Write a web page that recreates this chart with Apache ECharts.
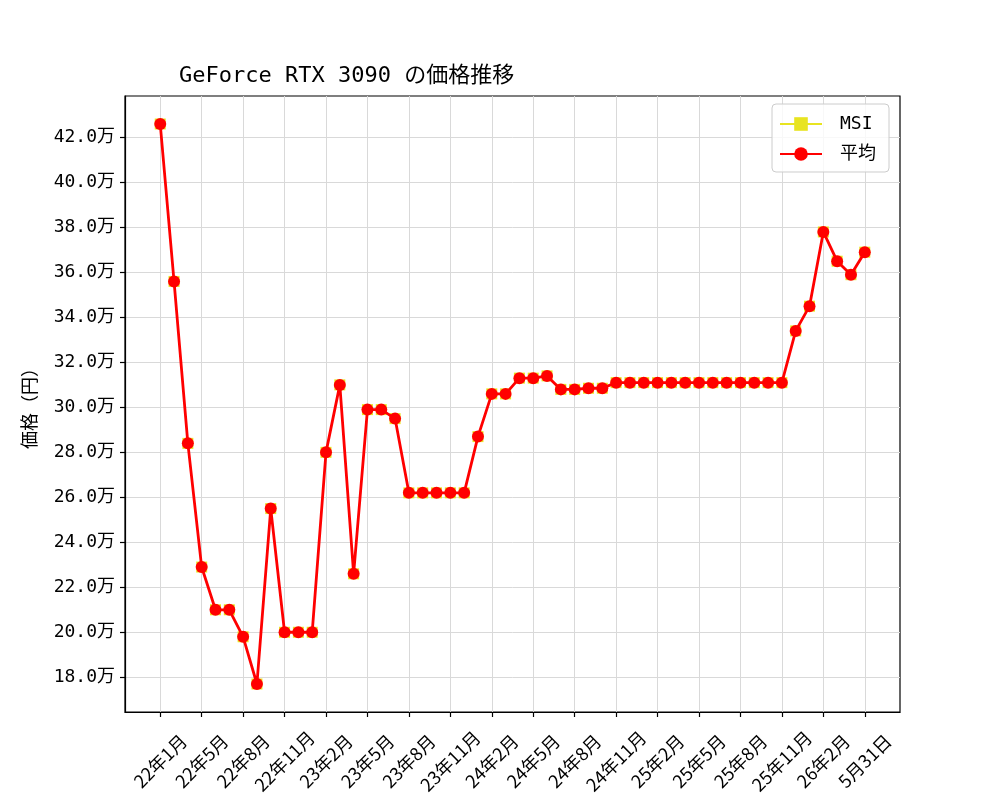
<!DOCTYPE html>
<html><head><meta charset="utf-8">
<script src="https://cdn.jsdelivr.net/npm/echarts@6/dist/echarts.min.js"></script>
<style>html,body{margin:0;padding:0;background:#fff}#c{width:1000px;height:800px}</style>
</head><body><div id="c"></div>
<script>
var tickLabels = ['22年1月','22年5月','22年8月','22年11月','23年2月','23年5月','23年8月','23年11月','24年2月','24年5月','24年8月','24年11月','25年2月','25年5月','25年8月','25年11月','26年2月','5月31日'];
var msiPrices = [426000,356000,284000,229000,210000,210000,198000,177000,255000,200000,200000,200000,280000,310000,226000,299000,299000,295000,262000,262000,262000,262000,262000,287000,306000,306000,313000,313000,314000,308000,308000,308500,308500,311000,311000,311000,311000,311000,311000,311000,311000,311000,311000,311000,311000,311000,334000,345000,378000,365000,359000,369000];
var avgPrices = [426000,356000,284000,229000,210000,210000,198000,177000,255000,200000,200000,200000,280000,310000,226000,299000,299000,295000,262000,262000,262000,262000,262000,287000,306000,306000,313000,313000,314000,308000,308000,308500,308500,311000,311000,311000,311000,311000,311000,311000,311000,311000,311000,311000,311000,311000,334000,345000,378000,365000,359000,369000];
var yTicks = [180000,200000,220000,240000,260000,280000,300000,320000,340000,360000,380000,400000,420000];
var tickStep = 3;

var xTicks = tickLabels.map(function(_, i){ return i * tickStep; });
var mono = '"DejaVu Sans Mono", "Noto Sans CJK JP", monospace';
var sans = '"Noto Sans CJK JP", sans-serif';
var n = avgPrices.length;
var pad = (n - 1) * 0.05;
var ymin = Math.min.apply(null, avgPrices), ymax = Math.max.apply(null, avgPrices);
var ypad = (ymax - ymin) * 0.05;

var chart = echarts.init(document.getElementById('c'), null, {renderer: 'canvas'});
chart.setOption({
  animation: false,
  backgroundColor: '#fff',
  title: {
    text: 'GeForce RTX 3090 の価格推移',
    left: 174, top: 60,
    textStyle: {fontFamily: mono, fontSize: 22, fontWeight: 'normal', color: '#000'}
  },
  legend: {
    right: 111, top: 104,
    orient: 'vertical',
    itemWidth: 42, itemHeight: 17, itemGap: 12,
    padding: [11, 13, 9, 7],
    borderColor: '#cccccc', borderWidth: 1, borderRadius: 4,
    backgroundColor: 'rgba(255,255,255,0.8)',
    textStyle: {fontFamily: mono, fontSize: 18, color: '#000', padding: [0, 0, 0, 13]},
    data: ['MSI', '平均']
  },
  grid: {left: 125, right: 100, top: 96, bottom: 88, show: true, borderColor: '#000', borderWidth: 1.2, backgroundColor: 'transparent'},
  xAxis: {
    type: 'value', min: -pad, max: (n - 1) + pad,
    axisLine: {show: true, onZero: false, lineStyle: {color: '#000', width: 1.2}},
    axisTick: {show: true, length: 5, customValues: xTicks, lineStyle: {color: '#000', width: 1.2}},
    axisLabel: {customValues: xTicks, rotate: 45, align: 'center', verticalAlign: 'middle',
      fontFamily: sans, fontSize: 18, color: '#000', margin: 49,
      formatter: function(v){ var k = Math.round(v / tickStep); return tickLabels[k] || ''; }},
    splitLine: {show: true, lineStyle: {color: '#d9d9d9', width: 1}}
  },
  yAxis: {
    type: 'value', min: ymin - ypad, max: ymax + ypad,
    name: '価格（円）', nameLocation: 'middle', nameGap: 87, nameRotate: 90,
    nameTextStyle: {fontFamily: sans, fontSize: 18, color: '#000'},
    axisLine: {show: true, onZero: false, lineStyle: {color: '#000', width: 1.2}},
    axisTick: {show: true, length: 5, customValues: yTicks, lineStyle: {color: '#000', width: 1.2}},
    axisLabel: {customValues: yTicks, fontFamily: mono, fontSize: 18, color: '#000', margin: 10,
      formatter: function(v){ return (v / 10000).toFixed(1) + '万'; }},
    splitLine: {show: true, lineStyle: {color: '#d9d9d9', width: 1}}
  },
  series: [
    {
      name: 'MSI', type: 'line',
      data: msiPrices.map(function(v, i){ return [i, v]; }),
      symbol: 'rect', symbolSize: 11, showAllSymbol: true,
      lineStyle: {color: '#e8e420', width: 1},
      itemStyle: {color: '#e8e420'},
      z: 2
    },
    {
      name: '平均', type: 'line',
      data: avgPrices.map(function(v, i){ return [i, v]; }),
      symbol: 'circle', symbolSize: 12, showAllSymbol: true,
      lineStyle: {color: '#ff0000', width: 2.8},
      itemStyle: {color: '#ff0000'},
      z: 3
    }
  ]
});
</script></body></html>
